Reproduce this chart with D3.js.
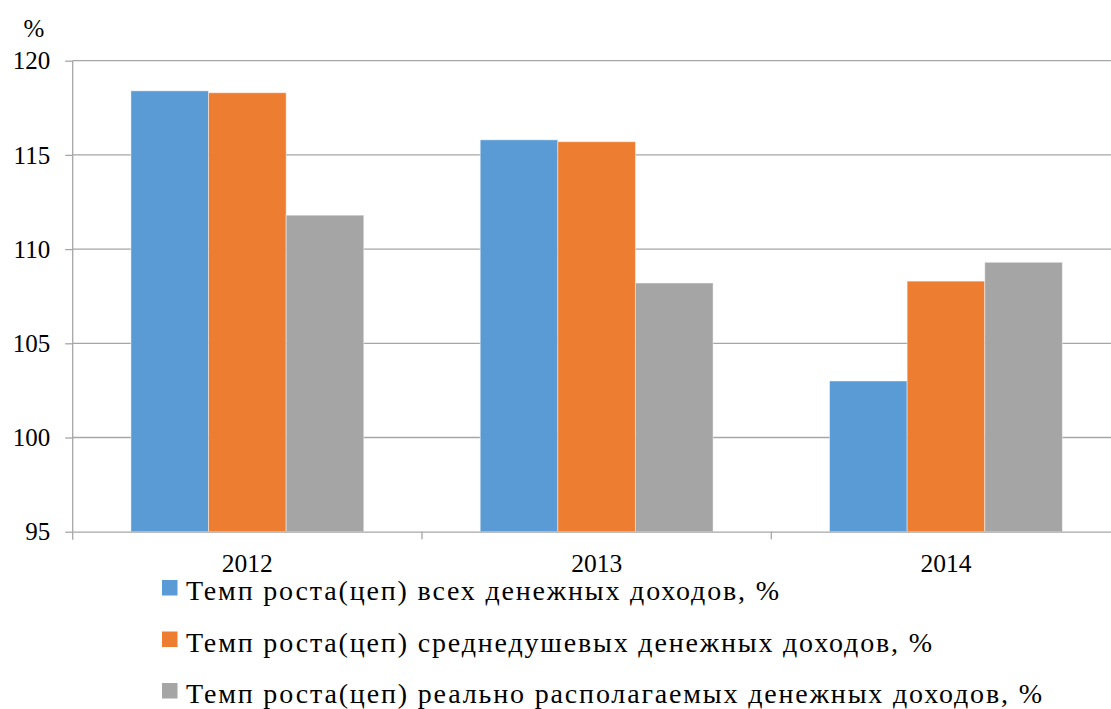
<!DOCTYPE html>
<html>
<head>
<meta charset="utf-8">
<script src="https://cdn.jsdelivr.net/npm/d3@7"></script>
<style>
  body { margin: 0; padding: 0; background: #fff; }
  .t { font-family: "Times New Roman", "Liberation Serif", Tinos, serif; fill: #000; }
</style>
</head>
<body>
<svg id="chart" width="1111" height="709" style="display:block"></svg>
<script>
const categories = ["2012", "2013", "2014"];
const seriesNames = [
  "Темп роста(цеп) всех денежных доходов, %",
  "Темп роста(цеп) среднедушевых денежных доходов, %",
  "Темп роста(цеп) реально располагаемых денежных доходов, %"
];
const seriesAll = [118.4, 115.8, 103.0];
const seriesPerCapita = [118.3, 115.7, 108.3];
const seriesReal = [111.8, 108.2, 109.3];
const seriesColors = ["#5B9BD5", "#ED7D31", "#A5A5A5"];
const yTicks = [95, 100, 105, 110, 115, 120];
const yUnit = "%";

const series = [seriesAll, seriesPerCapita, seriesReal];
// layout: rendered widths of the legend labels in the reference
const legendTextWidths = [593, 746, 856];

function draw() {
  const svg = d3.select("#chart");
  svg.selectAll("*").remove();
  const plot = { left: 72.7, right: 1120.6, top: 60.7, bottom: 531.7 };

  const x = d3.scaleBand().domain(categories).range([plot.left, plot.right]).paddingInner(0).paddingOuter(0);
  const y = d3.scaleLinear().domain([95, 120]).range([plot.bottom, plot.top]);
  const gapRatio = 1.5;
  const barW = x.bandwidth() / (series.length + gapRatio);
  const xs = d3.scaleBand().domain(d3.range(series.length)).range([0, barW * series.length]);

  svg.append("g").selectAll("line").data(yTicks.filter(t => t !== 95)).join("line")
    .attr("x1", plot.left).attr("x2", plot.right)
    .attr("y1", d => y(d)).attr("y2", d => y(d))
    .attr("stroke", "#A6A6A6").attr("stroke-width", 1.3);

  const groups = svg.append("g").selectAll("g").data(series).join("g")
    .attr("fill", (d, i) => seriesColors[i]);
  groups.each(function(vals, si) {
    d3.select(this).selectAll("rect").data(vals).join("rect")
      .attr("x", (v, ci) => x(categories[ci]) + barW * gapRatio / 2 + xs(si))
      .attr("width", xs.bandwidth())
      .attr("y", v => y(v))
      .attr("height", v => y(95) - y(v))
      .attr("stroke", "rgba(255,255,255,0.45)")
      .attr("stroke-width", 1);
  });

  const yAxis = d3.axisLeft(y).tickValues(yTicks).tickSize(7.5).tickSizeOuter(0).tickPadding(15).tickFormat(d3.format("d"));
  const gy = svg.append("g").attr("transform", `translate(${plot.left},0)`).call(yAxis)
    .attr("font-family", null).attr("font-size", 25);
  gy.select(".domain").attr("stroke", "#A6A6A6").attr("stroke-width", 1.3)
    .attr("d", `M0,${plot.top}V${plot.bottom + 8}`);
  gy.selectAll(".tick line").attr("stroke", "#A6A6A6").attr("stroke-width", 1.3);
  gy.selectAll(".tick text").attr("class", "t").attr("fill", "#000").attr("dy", "0.33em");

  const xAxis = d3.axisBottom(x).tickSize(0).tickPadding(22).tickSizeOuter(0);
  const gx = svg.append("g").attr("transform", `translate(0,${plot.bottom})`).call(xAxis)
    .attr("font-family", null).attr("font-size", 25.5);
  gx.select(".domain").attr("stroke", "#A6A6A6").attr("stroke-width", 1.3);
  gx.selectAll(".tick text").attr("class", "t").attr("fill", "#000");
  svg.append("g").selectAll("line").data(categories.slice(1)).join("line")
    .attr("x1", d => x(d)).attr("x2", d => x(d))
    .attr("y1", plot.bottom).attr("y2", plot.bottom + 7.5)
    .attr("stroke", "#A6A6A6").attr("stroke-width", 1.3);

  svg.append("text").attr("class", "t").attr("x", 34).attr("y", 37).attr("text-anchor", "middle")
    .attr("font-size", 25).text(yUnit);

  const legend = svg.append("g").selectAll("g").data(seriesNames).join("g")
    .attr("transform", (d, i) => `translate(162,${580 + i * 51.5})`);
  legend.append("rect").attr("width", 15.5).attr("height", 15.5)
    .attr("fill", (d, i) => seriesColors[i]);
  legend.append("text").attr("class", "t").attr("x", 24).attr("y", 20)
    .attr("font-size", 28)
    .attr("textLength", (d, i) => legendTextWidths[i])
    .attr("lengthAdjust", "spacing")
    .text(d => d);
}

draw();
</script>
</body>
</html>
